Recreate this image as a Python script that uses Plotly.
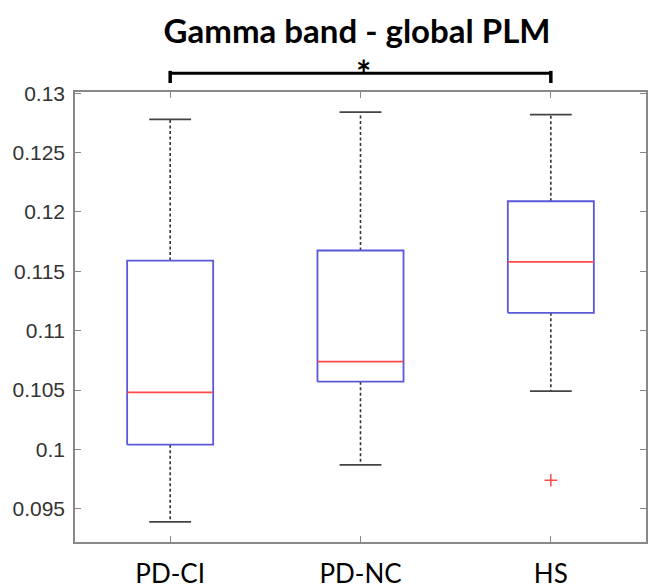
import plotly.graph_objects as go

categories = ["PD-CI", "PD-NC", "HS"]
lower_whisker = [0.0939, 0.0987, 0.1049]
q1 = [0.1004, 0.1057, 0.1115]
median = [0.1048, 0.1074, 0.1158]
q3 = [0.1159, 0.11675, 0.1209]
upper_whisker = [0.1278, 0.1284, 0.1282]
outlier_x = ["HS"]
outlier_y = [0.0974]
y_ticks = [0.095, 0.1, 0.105, 0.11, 0.115, 0.12, 0.125, 0.13]
y_tick_text = ["0.095", "0.1", "0.105", "0.11", "0.115", "0.12", "0.125", "0.13"]

BOX_HW = 0.226
CAP_HW = 0.11
BLUE = "#5858d8"
RED = "#ff4a4a"
CAP = "#444444"

fig = go.Figure()
pos = {c: i + 1 for i, c in enumerate(categories)}

for i, c in enumerate(categories):
    x0 = pos[c]
    fig.add_trace(go.Scatter(x=[x0, x0, None, x0, x0],
                             y=[q3[i], upper_whisker[i], None, q1[i], lower_whisker[i]],
                             mode="lines", line=dict(color="#333333", width=1.6, dash="3px,2.5px"),
                             hoverinfo="skip", showlegend=False))
    fig.add_trace(go.Scatter(x=[x0 - CAP_HW, x0 + CAP_HW, None, x0 - CAP_HW, x0 + CAP_HW],
                             y=[upper_whisker[i], upper_whisker[i], None, lower_whisker[i], lower_whisker[i]],
                             mode="lines", line=dict(color=CAP, width=1.8),
                             hoverinfo="skip", showlegend=False))
    fig.add_trace(go.Scatter(x=[x0 - BOX_HW, x0 + BOX_HW, x0 + BOX_HW, x0 - BOX_HW, x0 - BOX_HW],
                             y=[q1[i], q1[i], q3[i], q3[i], q1[i]],
                             mode="lines", line=dict(color=BLUE, width=1.8),
                             hoverinfo="skip", showlegend=False))
    fig.add_trace(go.Scatter(x=[x0 - BOX_HW, x0 + BOX_HW], y=[median[i], median[i]],
                             mode="lines", line=dict(color=RED, width=1.8),
                             hoverinfo="skip", showlegend=False))

fig.add_trace(go.Scatter(x=[pos[c] for c in outlier_x], y=outlier_y, mode="markers",
                         marker=dict(symbol="cross-thin", size=9, line=dict(color=RED, width=1.5)),
                         hoverinfo="skip", showlegend=False))

# significance bar between PD-CI and HS
fig.add_shape(type="line", xref="x", yref="paper", x0=1, x1=3, y0=1.0415, y1=1.0415,
              line=dict(color="black", width=3))
fig.add_shape(type="line", xref="x", yref="paper", x0=1, x1=1, y0=1.02, y1=1.047,
              line=dict(color="black", width=3.5))
fig.add_shape(type="line", xref="x", yref="paper", x0=3, x1=3, y0=1.02, y1=1.047,
              line=dict(color="black", width=3.5))
fig.add_annotation(x=2, xref="x", y=1.043, yref="paper", text="<b>*</b>", showarrow=False,
                   font=dict(family="Lato", size=36, color="black"), yanchor="middle",
                   xshift=3)

fig.update_layout(
    width=649, height=586,
    margin=dict(l=75, r=3, t=92, b=44),
    paper_bgcolor="white", plot_bgcolor="white",
    title=dict(text="<b>Gamma band - global PLM</b>", x=0.494, xref="paper", xanchor="center",
               y=1 - 31.5 / 586, yref="container", yanchor="middle",
               font=dict(family="Lato", size=33, color="black")),
    xaxis=dict(range=[0.5, 3.5], tickvals=[1, 2, 3], ticktext=categories,
               ticks="inside", ticklen=6, tickcolor="#888888", tickwidth=1.2,
               showline=True, linecolor="#888888", linewidth=1.5, mirror="ticks",
               showgrid=False, zeroline=False, automargin=False, ticklabelstandoff=8,
               tickfont=dict(family="Lato", size=26, color="black")),
    yaxis=dict(range=[0.0922, 0.1301], tickvals=y_ticks, ticktext=y_tick_text,
               ticks="inside", ticklen=6, tickcolor="#888888", tickwidth=1.2,
               showline=True, linecolor="#888888", linewidth=1.5, mirror="ticks",
               showgrid=False, zeroline=False, automargin=False, ticklabelstandoff=4,
               tickfont=dict(family="Liberation Sans", size=21, color="#333333")),
)

fig.write_html("out.html", config={"displayModeBar": False},
               post_script="document.body.style.margin='0';document.body.style.overflow='hidden';")
